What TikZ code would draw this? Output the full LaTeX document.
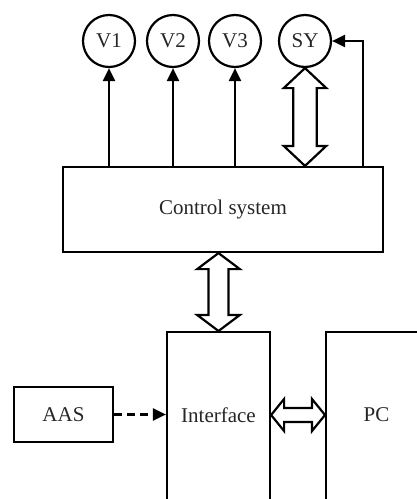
\documentclass[tikz,border=0pt]{standalone}
\usepackage{fontspec}
\setmainfont{Liberation Serif}
\usetikzlibrary{arrows.meta,calc}

% hollow double arrow, vertical: top point, bottom point, half head width, half shaft width, head length
\newcommand{\vhollow}[5]{%
  \draw[hollow] (#1) -- ($(#1)+(#3,#5)$) -- ($(#1)+(#4,#5)$) -- ($(#2)+(#4,-#5)$)
    -- ($(#2)+(#3,-#5)$) -- (#2) -- ($(#2)+(-#3,-#5)$) -- ($(#2)+(-#4,-#5)$)
    -- ($(#1)+(-#4,#5)$) -- ($(#1)+(-#3,#5)$) -- cycle;}
% hollow double arrow, horizontal: left point, right point, half head height, half shaft height, head length
\newcommand{\hhollow}[5]{%
  \draw[hollow] (#1) -- ($(#1)+(#5,-#3)$) -- ($(#1)+(#5,-#4)$) -- ($(#2)+(-#5,-#4)$)
    -- ($(#2)+(-#5,-#3)$) -- (#2) -- ($(#2)+(-#5,#3)$) -- ($(#2)+(-#5,#4)$)
    -- ($(#1)+(#5,#4)$) -- ($(#1)+(#5,#3)$) -- cycle;}

\begin{document}
\begin{tikzpicture}[x=1pt,y=-1pt,
  line width=2.2pt,
  every node/.style={font=\fontsize{21}{24}\selectfont, text=black!85},
  valve/.style={draw=black,circle,minimum size=52pt,inner sep=0pt},
  block/.style={draw=black,rectangle,inner sep=0pt},
  sig/.style={-{Triangle[length=13pt,width=12pt]}},
  hollow/.style={draw,fill=white,line join=miter}]
\clip (0,0) rectangle (417,499);

% actuators
\node[valve] (v1) at (109,41) {V1};
\node[valve] (v2) at (173,41) {V2};
\node[valve] (v3) at (235,41) {V3};
\node[valve] (sy) at (305,41) {SY};

% control unit
\node[block,minimum width=320pt,minimum height=85pt] (cs) at (223,209.5) {Control system};

% interface and PC (open towards the lower edge)
\node[block,minimum width=103pt,minimum height=200pt,anchor=north] (iface) at (218.5,331) {};
\node (ifacelbl) at (218.5,415) {Interface};
\node[block,minimum width=103pt,minimum height=200pt,anchor=north west] (pc) at (325,331) {};
\node (pclbl) at (376.5,415) {PC};

% acquisition unit
\node[block,minimum width=99pt,minimum height=55pt] (aas) at (63.5,414.5) {AAS};

% control outputs
\draw[sig] (cs.north -| v1) -- (v1.south);
\draw[sig] (cs.north -| v2) -- (v2.south);
\draw[sig] (cs.north -| v3) -- (v3.south);
\coordinate (fb) at ($(cs.north east)+(-21,0)$);
\draw[sig] (fb) |- (sy.east);

% bidirectional links
\coordinate (syb) at (cs.north -| sy);
\vhollow{sy.south}{syb}{21.3}{11.7}{20}
\coordinate (cst) at (cs.south -| iface);
\vhollow{cst}{iface.north}{21.3}{10}{16}
\coordinate (ifr) at (iface.east |- ifacelbl);
\coordinate (pcl) at (pc.west |- pclbl);
\hhollow{ifr}{pcl}{16}{7}{13}

% sensor input
\draw[sig,dash pattern=on 8pt off 5pt] (aas.east) -- (iface.west |- aas.east);
\end{tikzpicture}
\end{document}
